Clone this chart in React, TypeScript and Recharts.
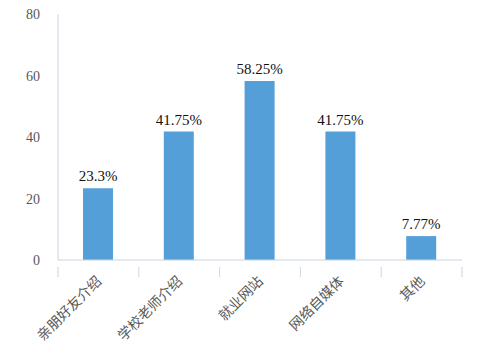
import React from "react";
import { BarChart, Bar, XAxis, YAxis, LabelList } from "recharts";

const categories = ["亲朋好友介绍", "学校老师介绍", "就业网站", "网络自媒体", "其他"];
const values = [23.3, 41.75, 58.25, 41.75, 7.77];
const yTicks = [0, 20, 40, 60, 80];

const data = categories.map((name, i) => ({ name, value: values[i] }));

const AXIS = "#C9D4E4";
const SERIF = "Liberation Serif, Times New Roman, serif";

const CatTick = (props: any) => {
  const { x, y, payload, index, visibleTicksCount } = props;
  const half = payload && typeof payload.offset === "number" ? payload.offset : 0;
  const last = index === (visibleTicksCount ?? categories.length) - 1;
  return (
    <g>
      <line x1={x - half} x2={x - half} y1={y - 1} y2={y + 9} stroke={AXIS} strokeWidth={1} />
      {last && <line x1={x + half} x2={x + half} y1={y - 1} y2={y + 9} stroke={AXIS} strokeWidth={1} />}
      <text
        x={x + 4}
        y={y + 14}
        textAnchor="end"
        transform={`rotate(-45, ${x + 4}, ${y + 14})`}
        fill="#595959"
        fontSize={14}
        fontFamily="Noto Sans CJK SC, sans-serif"
      >
        {payload.value}
      </text>
    </g>
  );
};

const YTick = (props: any) => {
  const { x, y, payload } = props;
  return (
    <text x={x} y={y} dy={5} textAnchor="end" fill="#595959" fontSize={14} fontFamily={SERIF}>
      {payload.value}
    </text>
  );
};

const TopLabel = (props: any) => {
  const { x, y, width, value } = props;
  return (
    <text x={x + width / 2} y={y - 7} textAnchor="middle" fill="#111" fontSize={15} fontFamily={SERIF}>
      {`${value}%`}
    </text>
  );
};

export default function App() {
  return (
    <div style={{ position: "absolute", left: 0, top: 0, background: "#fff" }}>
      <BarChart
        width={497}
        height={356}
        data={data}
        margin={{ top: 14, right: 35, left: 0, bottom: 0 }}
      >
        <XAxis
          dataKey="name"
          axisLine={{ stroke: AXIS }}
          tickLine={false}
          height={96}
          interval={0}
          tick={<CatTick />}
        />
        <YAxis
          domain={[0, 80]}
          ticks={yTicks}
          width={58}
          tickSize={0}
          tickMargin={18}
          axisLine={{ stroke: AXIS }}
          tick={<YTick />}
        />
        <Bar dataKey="value" fill="#559FD8" barSize={30} isAnimationActive={false}>
          <LabelList dataKey="value" content={<TopLabel />} />
        </Bar>
      </BarChart>
    </div>
  );
}
